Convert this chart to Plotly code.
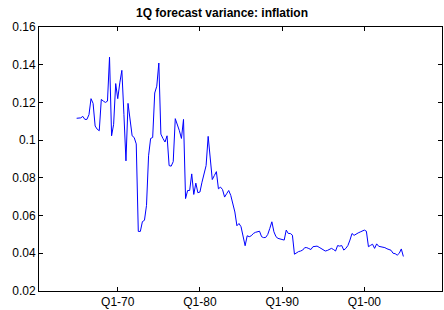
import plotly.graph_objects as go

start_year = 1965.0
variance = [
    0.1116, 0.1116, 0.1118, 0.1126, 0.1110, 0.1110, 0.1135, 0.1220, 0.1195, 0.1075,
    0.1058, 0.1050, 0.1216, 0.1207, 0.1200, 0.1207, 0.1440, 0.1023, 0.1084, 0.1300,
    0.1220, 0.1304, 0.1370, 0.1137, 0.0890, 0.1195, 0.1120, 0.1023, 0.1014, 0.0980,
    0.0516, 0.0516, 0.0568, 0.0575, 0.0654, 0.0917, 0.1009, 0.1014, 0.1250, 0.1286,
    0.1409, 0.1032, 0.1009, 0.0990, 0.1023, 0.0865, 0.0862, 0.0886, 0.1114, 0.1084,
    0.1050, 0.1009, 0.1110, 0.0690, 0.0733, 0.0733, 0.0821, 0.0712, 0.0772, 0.0721,
    0.0725, 0.0777, 0.0821, 0.0865, 0.1020, 0.0883, 0.0791, 0.0812, 0.0833, 0.0742,
    0.0751, 0.0738, 0.0698, 0.0716, 0.0733, 0.0707, 0.0654, 0.0619, 0.0546, 0.0558,
    0.0541, 0.0496, 0.0440, 0.0493, 0.0488, 0.0493, 0.0505, 0.0511, 0.0514, 0.0517,
    0.0488, 0.0483, 0.0484, 0.0500, 0.0532, 0.0567, 0.0514, 0.0488, 0.0479, 0.0475,
    0.0475, 0.0470, 0.0523, 0.0505, 0.0505, 0.0496, 0.0395, 0.0404, 0.0409, 0.0412,
    0.0417, 0.0430, 0.0430, 0.0425, 0.0420, 0.0435, 0.0438, 0.0438, 0.0432, 0.0425,
    0.0420, 0.0412, 0.0415, 0.0420, 0.0426, 0.0420, 0.0412, 0.0441, 0.0438, 0.0441,
    0.0417, 0.0426, 0.0441, 0.0470, 0.0505, 0.0495, 0.0503, 0.0508, 0.0513, 0.0519,
    0.0523, 0.0517, 0.0435, 0.0442, 0.0448, 0.0426, 0.0450, 0.0437, 0.0436, 0.0432,
    0.0430, 0.0424, 0.0420, 0.0416, 0.0400, 0.0398, 0.0390, 0.0400, 0.0423, 0.0383,
]
quarters = [start_year + 0.25 * i for i in range(len(variance))]

x_tick_vals = [1970, 1980, 1990, 2000]
x_tick_text = ["Q1-70", "Q1-80", "Q1-90", "Q1-00"]
y_tick_vals = [0.02, 0.04, 0.06, 0.08, 0.10, 0.12, 0.14, 0.16]
y_tick_text = ["0.02", "0.04", "0.06", "0.08", "0.1", "0.12", "0.14", "0.16"]

fig = go.Figure()
fig.add_trace(go.Scatter(
    x=quarters, y=variance, mode="lines",
    line=dict(color="#0000ff", width=1),
    showlegend=False, hoverinfo="skip",
))

axis_common = dict(
    showgrid=False, zeroline=False, showline=True, linecolor="black",
    linewidth=1, mirror="ticks", ticks="inside", ticklen=4,
    tickcolor="black", tickfont=dict(family="Liberation Sans, Arial", size=12, color="black"),
)

fig.update_xaxes(range=[1960.42, 2009.45], tickvals=x_tick_vals,
                 ticktext=x_tick_text, **axis_common)
fig.update_yaxes(range=[0.02, 0.16], tickvals=y_tick_vals,
                 ticktext=y_tick_text, **axis_common)

fig.update_layout(
    width=444, height=310,
    margin=dict(l=39, r=1, t=27, b=17),
    paper_bgcolor="white", plot_bgcolor="white",
    hovermode=False,
    title=dict(text="<b>1Q forecast variance: inflation</b>", x=0.5, xanchor="center",
               y=1 - 13 / 310, yanchor="middle",
               font=dict(family="Liberation Sans, Arial", size=12, color="black")),
)

# remove the page's default 8px body margin so the figure sits at the window origin
fig.write_html("out.html",
               config={"displayModeBar": False, "staticPlot": True},
               post_script="document.body.style.margin='0';document.body.style.overflow='hidden';")
